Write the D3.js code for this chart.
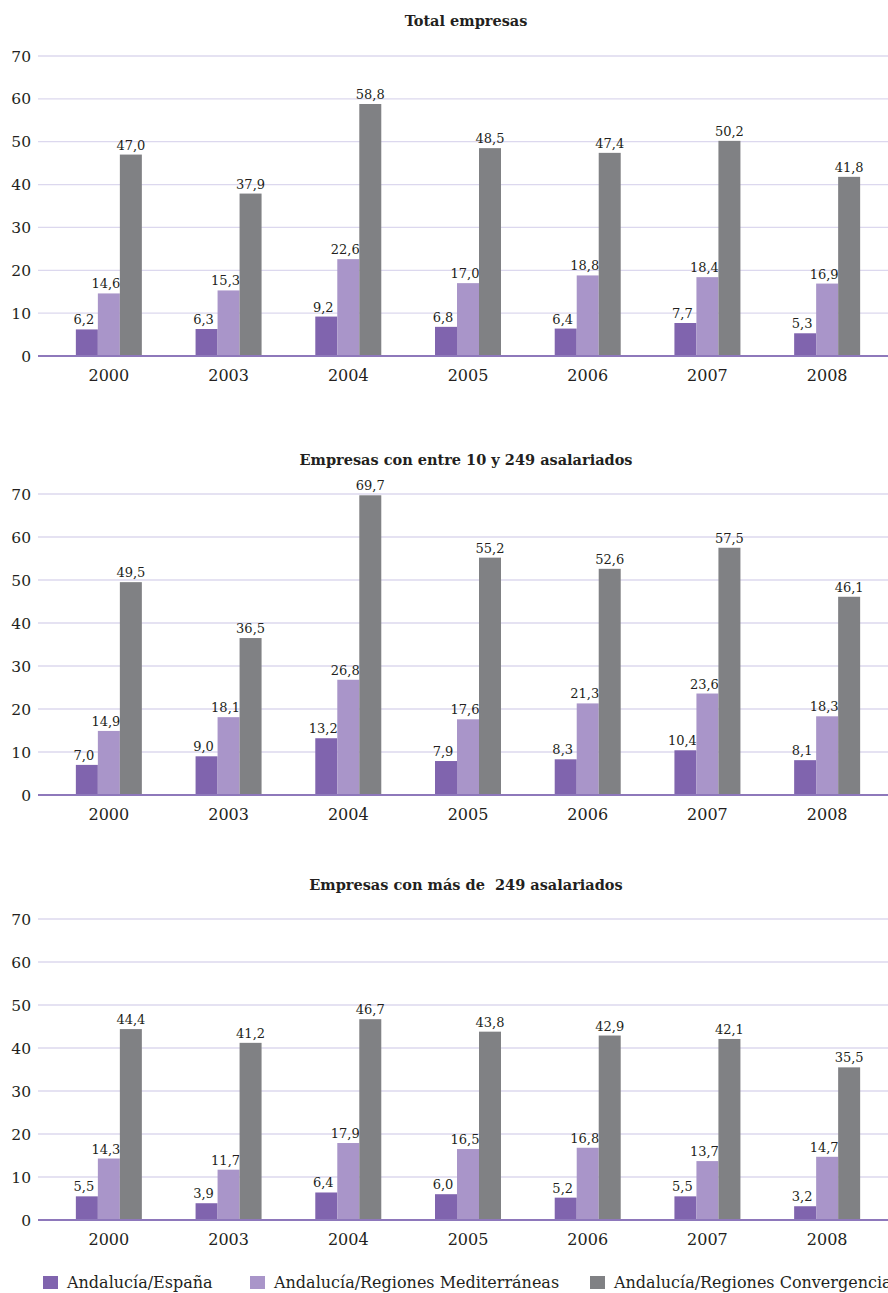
<!DOCTYPE html>
<html><head><meta charset="utf-8">
<script src="https://cdn.jsdelivr.net/npm/d3@7"></script>
<style>body{margin:0;background:#fff}svg{display:block} text{font-family:"DejaVu Serif","Liberation Serif",serif;}</style>
</head><body>
<script>
const years = ["2000","2003","2004","2005","2006","2007","2008"];
const seriesNames = ["Andalucía/España","Andalucía/Regiones Mediterráneas","Andalucía/Regiones Convergencia"];
const colors = ["#8064ae","#a995c9","#808184"];
const yTicks = [0,10,20,30,40,50,60,70];
const titles = ["Total empresas","Empresas con entre 10 y 249 asalariados","Empresas con más de  249 asalariados"];
const totalEspana = [6.2,6.3,9.2,6.8,6.4,7.7,5.3];
const totalMedit = [14.6,15.3,22.6,17.0,18.8,18.4,16.9];
const totalConv = [47.0,37.9,58.8,48.5,47.4,50.2,41.8];
const medEspana = [7.0,9.0,13.2,7.9,8.3,10.4,8.1];
const medMedit = [14.9,18.1,26.8,17.6,21.3,23.6,18.3];
const medConv = [49.5,36.5,69.7,55.2,52.6,57.5,46.1];
const grEspana = [5.5,3.9,6.4,6.0,5.2,5.5,3.2];
const grMedit = [14.3,11.7,17.9,16.5,16.8,13.7,14.7];
const grConv = [44.4,41.2,46.7,43.8,42.9,42.1,35.5];
const panels = [
  {title:titles[0], series:[totalEspana,totalMedit,totalConv], top:56, bottom:356, titleY:26},
  {title:titles[1], series:[medEspana,medMedit,medConv], top:494, bottom:795, titleY:465},
  {title:titles[2], series:[grEspana,grMedit,grConv], top:919, bottom:1220, titleY:890}
];
const W=888,H=1293;
const FF='"DejaVu Serif","Liberation Serif",serif';
const svg=d3.select("body").append("svg").attr("width",W).attr("height",H);
const x=d3.scaleBand().domain(years).range([49,887]).paddingInner(0).paddingOuter(0);
const barW=22;
const fmt=v=>v.toFixed(1).replace(".",",");
panels.forEach(p=>{
  const g=svg.append("g");
  const y=d3.scaleLinear().domain([0,70]).range([p.bottom,p.top]);
  g.append("text").attr("x",466).attr("y",p.titleY).attr("text-anchor","middle").attr("font-family",FF)
    .attr("font-weight","bold").attr("font-size",14.5).attr("fill","#231f20").text(p.title).style("white-space","pre");
  g.selectAll("line.grid").data(yTicks.filter(t=>t>0)).join("line")
    .attr("x1",38).attr("x2",888).attr("y1",d=>y(d)).attr("y2",d=>y(d))
    .attr("stroke","#dcd8ee").attr("stroke-width",1.3);
  g.selectAll("text.yt").data(yTicks).join("text").attr("font-family",FF)
    .attr("x",31).attr("y",d=>y(d)+5.5).attr("text-anchor","end")
    .attr("font-size",15.5).attr("fill","#231f20").text(d=>d);
  p.series.forEach((vals,si)=>{
    const off=(si-1)*barW - barW/2;
    g.selectAll(null).data(vals).join("rect")
      .attr("x",(d,i)=>x(years[i])+x.bandwidth()/2+off)
      .attr("y",d=>y(d)).attr("width",barW).attr("height",d=>p.bottom-y(d))
      .attr("fill",colors[si]);
    g.selectAll(null).data(vals).join("text").attr("font-family",FF)
      .attr("x",(d,i)=>x(years[i])+x.bandwidth()/2+off+barW/2 - (si<2?3:0))
      .attr("y",d=>y(d)-5).attr("text-anchor","middle")
      .attr("font-size",13).attr("fill","#231f20").text(fmt);
  });
  g.append("line").attr("x1",38).attr("x2",888).attr("y1",p.bottom).attr("y2",p.bottom)
    .attr("stroke","#8e78bb").attr("stroke-width",2);
  g.selectAll("text.xt").data(years).join("text").attr("font-family",FF)
    .attr("x",d=>x(d)+x.bandwidth()/2).attr("y",p.bottom+25).attr("text-anchor","middle")
    .attr("font-size",16).attr("fill","#231f20").text(d=>d);
});
const legX=[43,250,590];
const lg=svg.append("g");
seriesNames.forEach((n,i)=>{
  lg.append("rect").attr("x",legX[i]).attr("y",1276).attr("width",15).attr("height",13).attr("fill",colors[i]);
  lg.append("text").attr("x",legX[i]+24).attr("y",1288).attr("font-family",FF).attr("font-size",16).attr("fill","#231f20").text(n);
});
</script>
</body></html>
